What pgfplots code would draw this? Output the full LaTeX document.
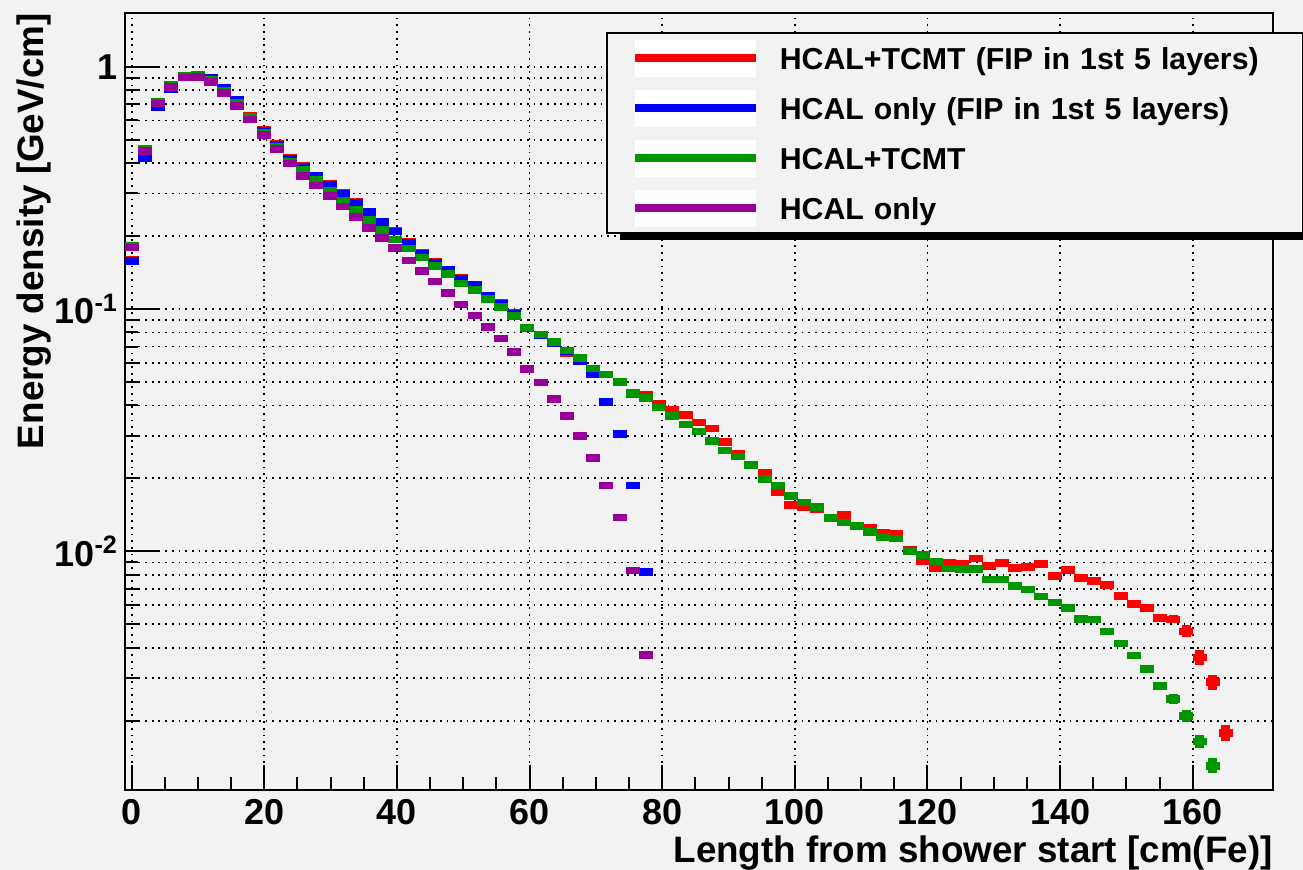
\documentclass[border=0pt]{standalone}
\usepackage{fontspec}
\setmainfont{Liberation Sans}
\usepackage{pgfplots}
\usepackage{pgfplotstable}
\pgfplotsset{compat=1.18}

\definecolor{bgcol}{RGB}{242,242,242}
\definecolor{rred}{RGB}{255,0,0}
\definecolor{rblue}{RGB}{0,0,255}
\definecolor{rgreen}{RGB}{0,150,0}
\definecolor{rpurple}{RGB}{153,0,153}

\pgfplotstableread{
x y e
0 0.160 0
1.99 0.425 0
3.98 0.690 0
5.96 0.815 0
7.95 0.915 0
9.94 0.930 0
11.93 0.900 0
13.92 0.820 0
15.90 0.730 0
17.89 0.630 0
19.88 0.548 0
21.87 0.480 0
23.86 0.421 0
25.84 0.389 0
27.83 0.356 0
29.82 0.329 0
31.81 0.302 0
33.80 0.278 0
35.78 0.253 0
37.77 0.230 0
39.76 0.210 0
41.75 0.189 0
43.74 0.171 0
45.72 0.157 0
47.71 0.146 0
49.70 0.135 0
51.69 0.126 0
53.68 0.114 0
55.66 0.106 0
57.65 0.0965 0
59.64 0.0832 0
61.63 0.0783 0
63.62 0.0728 0
65.60 0.0660 0
67.59 0.0608 0
69.58 0.0569 0
71.57 0.0536 0
73.56 0.0501 0
75.54 0.0446 0
77.53 0.0442 0
79.52 0.0408 0
81.51 0.0383 0
83.50 0.0365 0
85.48 0.0341 0
87.47 0.0322 0
89.46 0.0283 0
91.45 0.0253 0
93.44 0.0227 0
95.42 0.0211 0
97.41 0.0176 0
99.40 0.01552 0
101.39 0.01519 0
103.38 0.0149 0
105.36 0.0137 0
107.35 0.01416 0
109.34 0.0127 0
111.33 0.01256 0
113.32 0.01193 0
115.30 0.01178 0
117.29 0.01018 0
119.28 0.00914 0
121.27 0.00851 0
123.26 0.00897 0
125.24 0.00890 0
127.23 0.00935 0
129.22 0.00872 0
131.21 0.00897 0
133.20 0.00853 0
135.18 0.00862 0
137.17 0.00886 0
139.16 0.00793 0
141.15 0.00837 0
143.14 0.00778 0
145.12 0.00754 0
147.11 0.00726 0
149.10 0.00654 0
151.09 0.00606 0.0002
153.08 0.00585 0.0002
155.06 0.00531 0.0002
157.05 0.00524 0.0002
159.04 0.00468 0.00027
161.03 0.00365 0.00025
163.02 0.00289 0.00021
165.00 0.001784 0.000142
}\redtab

\pgfplotstableread{
x y e
0 0.158 0
1.99 0.421 0
3.98 0.684 0
5.96 0.807 0
7.95 0.912 0
9.94 0.924 0
11.93 0.900 0
13.92 0.819 0
15.90 0.729 0
17.89 0.625 0
19.88 0.545 0
21.87 0.478 0
23.86 0.419 0
25.84 0.387 0
27.83 0.354 0
29.82 0.327 0
31.81 0.300 0
33.80 0.276 0
35.78 0.2515 0
37.77 0.229 0
39.76 0.2086 0
41.75 0.1878 0
43.74 0.170 0
45.72 0.156 0
47.71 0.145 0
49.70 0.1339 0
51.69 0.1256 0
53.68 0.1135 0
55.66 0.1055 0
57.65 0.0960 0
59.64 0.0840 0
61.63 0.0783 0
63.62 0.0725 0
65.60 0.0668 0
67.59 0.0612 0
69.58 0.0536 0
71.57 0.0413 0
73.56 0.0305 0
75.54 0.01873 0
77.53 0.00821 0
}\bluetab

\pgfplotstableread{
x y e
0 0.182 0
1.99 0.458 0
3.98 0.715 0
5.96 0.84 0
7.95 0.915 0
9.94 0.924 0
11.93 0.881 0
13.92 0.80 0
15.90 0.71 0
17.89 0.62 0
19.88 0.534 0
21.87 0.468 0
23.86 0.407 0
25.84 0.375 0
27.83 0.341 0
29.82 0.308 0
31.81 0.280 0
33.80 0.256 0
35.78 0.233 0
37.77 0.2117 0
39.76 0.194 0
41.75 0.178 0
43.74 0.1634 0
45.72 0.1504 0
47.71 0.1394 0
49.70 0.1277 0
51.69 0.1198 0
53.68 0.1100 0
55.66 0.1022 0
57.65 0.0938 0
59.64 0.0840 0
61.63 0.0786 0
63.62 0.0733 0
65.60 0.0675 0
67.59 0.0628 0
69.58 0.0569 0
71.57 0.0536 0
73.56 0.0501 0
75.54 0.0451 0
77.53 0.0429 0
79.52 0.0393 0
81.51 0.0363 0
83.50 0.0334 0
85.48 0.0312 0
87.47 0.0285 0
89.46 0.0261 0
91.45 0.0246 0
93.44 0.0227 0
95.42 0.0199 0
97.41 0.0187 0
99.40 0.01691 0
101.39 0.01593 0
103.38 0.01528 0
105.36 0.01377 0
107.35 0.01317 0
109.34 0.01276 0
111.33 0.01205 0
113.32 0.01149 0
115.30 0.01132 0
117.29 0.0100 0
119.28 0.00966 0
121.27 0.00903 0
123.26 0.00851 0
125.24 0.00845 0
127.23 0.00845 0
129.22 0.00766 0
131.21 0.00766 0
133.20 0.00719 0
135.18 0.00697 0
137.17 0.0065 0
139.16 0.00614 0
141.15 0.00585 0
143.14 0.00526 0
145.12 0.00524 0
147.11 0.00468 0
149.10 0.00417 0
151.09 0.00372 0
153.08 0.00327 0
155.06 0.00278 0.0001
157.05 0.002457 0.00012
159.04 0.002097 0.00012
161.03 0.001644 0.0001
163.02 0.001304 0.000093
}\greentab

\pgfplotstableread{
x y e
0 0.180 0
1.99 0.449 0
3.98 0.706 0
5.96 0.824 0
7.95 0.904 0
9.94 0.907 0
11.93 0.865 0
13.92 0.779 0
15.90 0.690 0
17.89 0.607 0
19.88 0.523 0
21.87 0.457 0
23.86 0.399 0
25.84 0.355 0
27.83 0.324 0
29.82 0.2926 0
31.81 0.265 0
33.80 0.240 0
35.78 0.2166 0
37.77 0.197 0
39.76 0.179 0
41.75 0.159 0
43.74 0.1435 0
45.72 0.1297 0
47.71 0.1164 0
49.70 0.1046 0
51.69 0.0942 0
53.68 0.0845 0
55.66 0.0757 0
57.65 0.0665 0
59.64 0.0565 0
61.63 0.0498 0
63.62 0.0425 0
65.60 0.0363 0
67.59 0.0299 0
69.58 0.0243 0
71.57 0.01873 0
73.56 0.0138 0
75.54 0.00836 0
77.53 0.00373 0
}\purpletab

\newcommand{\rootleg}[1]{\addlegendimage{legend image code/.code={%
  \path[draw=none,fill=none] (0pt,-12.5pt) rectangle (74.5pt,12.5pt);
  \path[draw=none,fill=white] (14pt,-9.25pt) rectangle (74.5pt,9.25pt);
  \path[draw=#1,fill=none,line width=4pt] (14pt,0pt) -- (74.5pt,0pt);}}}

\pgfplotsset{
  rootpts/.style={only marks, mark=square*, mark size=3.25pt, color=#1,
    mark options={yscale=0.5, draw=none, fill=#1},
    error bars/y dir=both, error bars/y explicit, error bars/error mark=none,
    error bars/error bar style={line width=4.5pt, color=#1}},
}

\begin{document}
\begin{tikzpicture}
\fill[bgcol] (-62.5pt,-40pt) rectangle (589pt,395pt);
\begin{axis}[
  at={(0pt,0pt)}, anchor=south west,
  scale only axis, width=574pt, height=388.5pt,
  clip=false,
  ymode=log,
  xmin=-1.01, xmax=172.1, ymin=1.035e-3, ymax=1.666,
  axis background/.style={fill=bgcol},
  axis line style={line width=1pt, black},
  tick pos=left, tick align=inside,
  every tick/.style={black, line width=1pt},
  major tick length=12.5pt, minor tick length=6.5pt,
  xtick={0,20,40,60,80,100,120,140,160},
  xticklabels={0,20,40,60,80,100,120,140,160},
  minor x tick num=3,
  ytick={0.01,0.1,1},
  yticklabels={{10\textsuperscript{-2}},{10\textsuperscript{-1}},1},
  minor ytick={0.002,0.003,0.004,0.005,0.006,0.007,0.008,0.009,0.02,0.03,0.04,0.05,0.06,0.07,0.08,0.09,0.2,0.3,0.4,0.5,0.6,0.7,0.8,0.9},
  extra y ticks={0.01,0.1,1},
  extra y tick labels={},
  extra y tick style={major tick length=17pt, grid=none},
  xmajorgrids, ymajorgrids, yminorgrids,
  grid style={black, line width=0.9pt, dash pattern=on 0.9pt off 2.45pt},
  minor grid style={black, line width=0.9pt, dash pattern=on 0.9pt off 2.45pt},
  ticklabel style={font=\bfseries\fontsize{18}{20}\selectfont},
  xticklabel style={yshift=-1pt},
  xlabel={Length from shower start [cm(Fe)]},
  ylabel={Energy density [GeV/cm]},
  label style={font=\bfseries\fontsize{18.4}{20}\selectfont, inner sep=0pt},
  xlabel style={at={(axis description cs:1,0)}, anchor=base east, yshift=-36.4pt},
  ylabel style={at={(axis description cs:-0.0714,1)}, anchor=base east},
  legend style={at={(axis description cs:0.41899,0.9752)}, anchor=north west,
    draw=black, line width=0.75pt, fill=bgcol,
    inner xsep=0pt, inner ysep=0pt, column sep=10pt, row sep=0pt,
    nodes={font=\bfseries\fontsize{15.15}{18}\selectfont, text width=261.5pt,
      align=left, anchor=west, text height=11pt, text depth=0pt,
      inner xsep=0pt, inner ysep=0pt, draw=none}},
  legend cell align=left,
]
\addplot[forget plot, rootpts=rred] table[x=x, y=y, y error=e] {\redtab};
\addplot[forget plot, rootpts=rblue] table[x=x, y=y, y error=e] {\bluetab};
\addplot[forget plot, rootpts=rgreen] table[x=x, y=y, y error=e] {\greentab};
\addplot[forget plot, rootpts=rpurple] table[x=x, y=y, y error=e] {\purpletab};
\fill[black] (axis description cs:0.43118,0.70824) rectangle (axis description cs:1.03711,0.96486);
\rootleg{rred}
\addlegendentry{HCAL+TCMT (FIP in 1st 5 layers)}
\rootleg{rblue}
\addlegendentry{HCAL only (FIP in 1st 5 layers)}
\rootleg{rgreen}
\addlegendentry{HCAL+TCMT}
\rootleg{rpurple}
\addlegendentry{HCAL only}
\end{axis}
\pgfresetboundingbox
\useasboundingbox (-62.5pt,-40pt) rectangle (589pt,395pt);
\end{tikzpicture}
\end{document}
